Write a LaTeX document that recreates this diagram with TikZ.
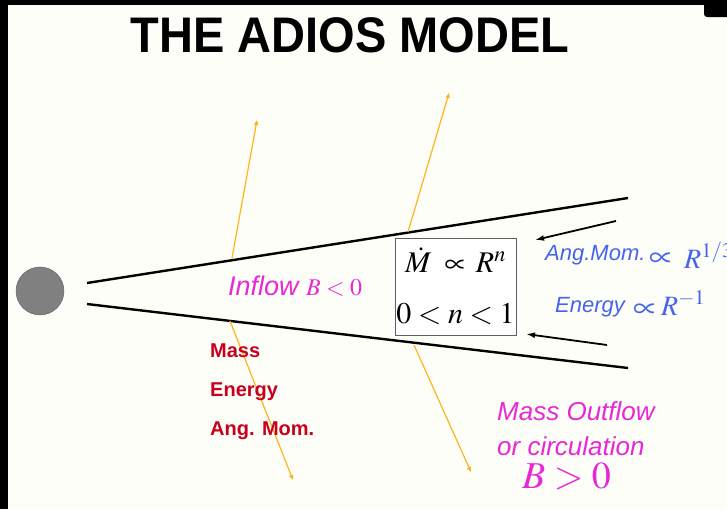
\documentclass[tikz,border=0pt]{standalone}
\usepackage{mathptmx}
\usepackage{fontspec}
\setmainfont{Liberation Sans}
\usepackage{tikz}
\usetikzlibrary{arrows.meta}
\definecolor{FondoClaro}{RGB}{253,254,248}
\definecolor{NaranjaRayo}{RGB}{255,180,30}
\definecolor{RosaFlujo}{RGB}{232,40,215}
\definecolor{AzulLey}{RGB}{70,100,235}
\definecolor{RojoLista}{RGB}{200,0,30}
\definecolor{GrisDisco}{RGB}{128,128,128}
\definecolor{GrisBorde}{RGB}{95,95,95}

\begin{document}
\begin{tikzpicture}[x=1pt,y=-1pt]
  \fill[FondoClaro] (0,0) rectangle (727,509);
  \useasboundingbox (0,0) rectangle (727,509);
  \clip (0,0) rectangle (727,509);
  \fill[black] (0,0) rectangle (727,5);
  \fill[black] (0,0) rectangle (8,509);
  \fill[black,rounded corners=3pt] (704,-6) rectangle (733,17);
  % titulo
  \node[xscale=0.94] (titulo) at (350,35) {\fontsize{50}{50}\selectfont\bfseries THE ADIOS MODEL};
  % objeto central y disco
  \node[circle,fill=GrisDisco,draw=GrisBorde,minimum size=48pt,inner sep=0pt] (estrella) at (40,291) {};
  \coordinate (discoA) at (87,283);
  \coordinate (discoB) at (628,198);
  \coordinate (discoC) at (87,304);
  \coordinate (discoD) at (628,368);
  \draw[line width=2.4pt] (discoA)--(discoB);
  \draw[line width=2.4pt] (discoC)--(discoD);
  \node[draw=GrisBorde,fill=white,line width=0.8pt,minimum width=121pt,minimum height=97pt,inner sep=0pt,
        align=center,font=\fontsize{30}{51}\selectfont] (caja) at (455.5,286.5)
    {$\dot M\;\propto\, R^n$\\$0<n<1$};
  % rayos del flujo
  \coordinate (rayoA) at (232,258);
  \coordinate (rayoB) at (257,120);
  \coordinate (rayoC) at (230,321);
  \coordinate (rayoD) at (293,480);
  \coordinate (rayoE) at (408,232);
  \coordinate (rayoF) at (449,93);
  \coordinate (rayoG) at (414,345);
  \coordinate (rayoH) at (471,472);
  \draw[-{Triangle[length=5pt,width=4pt]},NaranjaRayo,line width=1.2pt] (rayoA)--(rayoB);
  \draw[-{Triangle[length=5pt,width=4pt]},NaranjaRayo,line width=1.2pt] (rayoC)--(rayoD);
  \draw[-{Triangle[length=5pt,width=4pt]},NaranjaRayo,line width=1.2pt] (rayoE)--(rayoF);
  \draw[-{Triangle[length=5pt,width=4pt]},NaranjaRayo,line width=1.2pt] (rayoG)--(rayoH);
  % flechas negras
  \coordinate (negA) at (616,221);
  \coordinate (negB) at (535,240);
  \coordinate (negC) at (607,345);
  \coordinate (negD) at (526,334);
  \draw[-{Latex[length=9pt,width=6pt]},line width=1.8pt] (negA)--(negB);
  \draw[-{Latex[length=9pt,width=6pt]},line width=1.8pt] (negC)--(negD);
  % textos
  \node[anchor=base west,text=RosaFlujo,inner sep=0pt] (entrada) at (228,295)
    {\fontsize{27}{27}\selectfont\itshape Inflow\ \fontsize{24}{24}\selectfont$B<0$};
  \node[anchor=base west,text=AzulLey,inner sep=0pt,font=\itshape\fontsize{22}{22}\selectfont] (momento) at (545,260) {Ang.Mom.};
  \node[anchor=base west,text=AzulLey,inner sep=0pt,font=\fontsize{33}{33}\selectfont] (propA) at (649,266) {$\propto$};
  \node[anchor=base west,text=AzulLey,inner sep=0pt,font=\fontsize{28}{28}\selectfont] (radioA) at (684,268) {$R^{1/3}$};
  \node[anchor=base west,text=AzulLey,inner sep=0pt,font=\itshape\fontsize{22}{22}\selectfont] (energia) at (555,312) {Energy};
  \node[anchor=base west,text=AzulLey,inner sep=0pt,font=\fontsize{33}{33}\selectfont] (propB) at (633,317) {$\propto$};
  \node[anchor=base west,text=AzulLey,inner sep=0pt,font=\fontsize{28}{28}\selectfont] (radioB) at (661,315) {$R^{-1}$};
  \node[anchor=base west,text=RojoLista,inner sep=0pt,font=\bfseries\fontsize{20}{20}\selectfont] (masa) at (210,357) {Mass};
  \node[anchor=base west,text=RojoLista,inner sep=0pt,font=\bfseries\fontsize{20}{20}\selectfont] (energ) at (210,396) {Energy};
  \node[anchor=base west,text=RojoLista,inner sep=0pt,font=\bfseries\fontsize{20}{20}\selectfont] (angmom) at (210,435) {Ang. Mom.};
  \node[anchor=base west,text=RosaFlujo,inner sep=0pt,font=\itshape\fontsize{26}{26}\selectfont] (salida) at (497,420) {Mass Outflow};
  \node[anchor=base west,text=RosaFlujo,inner sep=0pt,font=\itshape\fontsize{26}{26}\selectfont] (circ) at (497,455) {or circulation};
  \node[anchor=base west,text=RosaFlujo,inner sep=0pt] (bpos) at (522,488) {\fontsize{38}{38}\selectfont$B>0$};
\end{tikzpicture}
\end{document}
